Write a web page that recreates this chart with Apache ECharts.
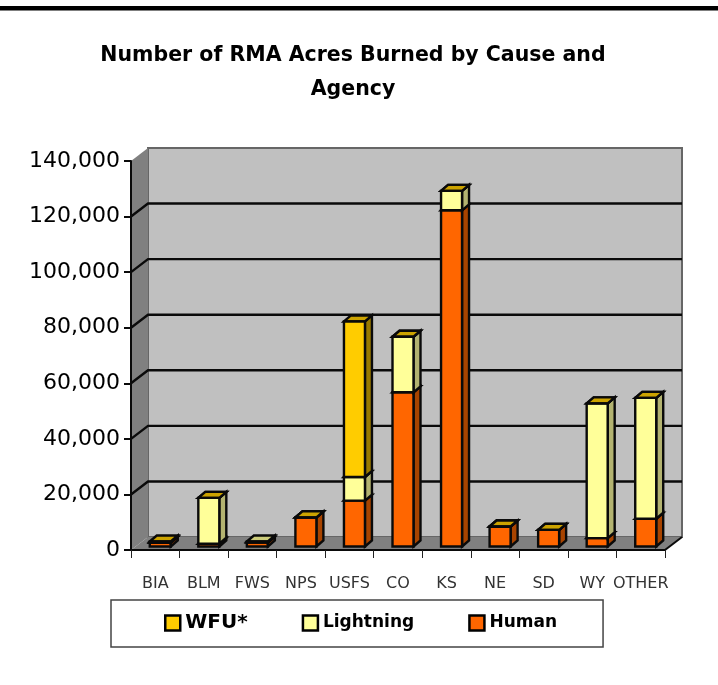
<!DOCTYPE html>
<html>
<head>
<meta charset="utf-8">
<title>RMA Acres Burned</title>
<script src="https://cdn.jsdelivr.net/npm/echarts@6/dist/echarts.min.js"></script>
<style>
  html, body { margin: 0; padding: 0; background: #fff; }
  #chart { width: 718px; height: 685px; }
</style>
</head>
<body>
<div id="chart"></div>
<script>
const categories = ['BIA', 'BLM', 'FWS', 'NPS', 'USFS', 'CO', 'KS', 'NE', 'SD', 'WY', 'OTHER'];
const human = [1400, 1000, 1400, 10500, 16500, 55500, 121000, 7200, 6000, 3000, 10000];
const lightning = [0, 16500, 400, 0, 8500, 20000, 7000, 0, 0, 48500, 43500];
// null = no WFU block at all, so the lightning top shows (FWS)
const wfu = [400, 0, null, 0, 56000, 0, 0, 0, 0, 0, 0];
const yTicks = [0, 20000, 40000, 60000, 80000, 100000, 120000, 140000];

const DEPTH_X = 17, DEPTH_Y = 13;
const BAR_SHIFT_X = 5, BAR_SHIFT_Y = 3.5, BAR_W = 21, BAR_DX = 7, BAR_DY = 6;

function poly(points, fill, stroke, width) {
  return {
    type: 'polygon',
    shape: { points },
    style: { fill, stroke: stroke || 'none', lineWidth: width || 0, lineJoin: 'miter' }
  };
}

function renderWalls(params, api) {
  const c = params.coordSys;
  const x0 = c.x, x1 = c.x + c.width, top = c.y, bot = c.y + c.height;
  const grey = '#c0c0c0', dark = '#808080';
  const kids = [
    poly([[x0 + DEPTH_X, top - DEPTH_Y], [x1 + DEPTH_X, top - DEPTH_Y], [x1 + DEPTH_X, bot - DEPTH_Y], [x0 + DEPTH_X, bot - DEPTH_Y]], grey, '#666', 2),
    poly([[x0, top], [x0 + DEPTH_X, top - DEPTH_Y], [x0 + DEPTH_X, bot - DEPTH_Y], [x0, bot]], dark),
    poly([[x0, bot], [x0 + DEPTH_X, bot - DEPTH_Y], [x1 + DEPTH_X, bot - DEPTH_Y], [x1, bot]], dark)
  ];
  yTicks.forEach(v => {
    const y = api.coord([0, v])[1];
    if (v > 0 && v < 140000) {
      kids.push({
        type: 'polyline',
        shape: { points: [[x0, y], [x0 + DEPTH_X, y - DEPTH_Y], [x1 + DEPTH_X, y - DEPTH_Y]] },
        style: { fill: 'none', stroke: '#0a0a0a', lineWidth: 2.4 }
      });
    }
  });
  kids.push({
    type: 'line',
    shape: { x1: x1, y1: bot, x2: x1 + DEPTH_X, y2: bot - DEPTH_Y },
    style: { stroke: '#0a0a0a', lineWidth: 2 }
  });
  return { type: 'group', children: kids };
}

function barRenderer(front, side, topFace) {
  return function (params, api) {
    const idx = api.value(0);
    const lo = api.coord([idx, api.value(1)]);
    const hi = api.coord([idx, api.value(2)]);
    const l = lo[0] - BAR_W / 2 + BAR_SHIFT_X, r = l + BAR_W;
    const b = lo[1] - BAR_SHIFT_Y, t = hi[1] - BAR_SHIFT_Y;
    const line = '#0a0a0a';
    return {
      type: 'group',
      children: [
        poly([[r, b], [r + BAR_DX, b - BAR_DY], [r + BAR_DX, t - BAR_DY], [r, t]], side, line, 2.4),
        poly([[l, t], [l + BAR_DX, t - BAR_DY], [r + BAR_DX, t - BAR_DY], [r, t]], topFace, line, 2.4),
        poly([[l, b], [r, b], [r, t], [l, t]], front, line, 2.4)
      ]
    };
  };
}

// stack by hand, custom series do not stack
function stackRows(values, below) {
  const rows = [];
  values.forEach((v, i) => {
    if (v === null) return;
    const base = below.reduce((s, arr) => s + (arr[i] || 0), 0);
    rows.push([i, base, base + v]);
  });
  return rows;
}

const chart = echarts.init(document.getElementById('chart'));
chart.setOption({
  animation: false,
  backgroundColor: '#fff',
  textStyle: { fontFamily: 'DejaVu Sans' },
  title: {
    text: 'Number of RMA Acres Burned by Cause and\nAgency',
    left: 348,
    top: 34,
    textAlign: 'center',
    textStyle: { fontFamily: 'DejaVu Sans', fontSize: 20.5, fontWeight: 'bold', color: '#000', lineHeight: 34 }
  },
  graphic: [{
    type: 'rect',
    shape: { x: 0, y: 6, width: 718, height: 4.5 },
    style: { fill: '#000' }
  }],
  grid: { left: 131, top: 161, width: 534, height: 389, containLabel: false },
  legend: {
    left: 111,
    top: 600,
    orient: 'horizontal',
    data: [
      { name: 'WFU*', textStyle: { fontSize: 20 } },
      { name: 'Lightning' },
      { name: 'Human' }
    ],
    padding: [13, 46, 14, 53],
    backgroundColor: '#fff',
    borderColor: '#444',
    borderWidth: 1.5,
    itemWidth: 15,
    itemHeight: 15,
    itemGap: 54,
    icon: 'rect',
    itemStyle: { borderColor: '#000', borderWidth: 2.5 },
    textStyle: { fontFamily: 'DejaVu Sans', fontWeight: 'bold', fontSize: 17, color: '#000' }
  },
  xAxis: {
    type: 'category',
    data: categories,
    axisLine: { show: true, lineStyle: { color: '#0a0a0a', width: 2 } },
    axisTick: { show: true, length: 8, alignWithLabel: false, lineStyle: { color: '#222', width: 1 } },
    axisLabel: { color: '#333', fontSize: 16, margin: 26, interval: 0, fontFamily: 'DejaVu Sans' },
    z: 5
  },
  yAxis: {
    type: 'value',
    min: 0,
    max: 140000,
    interval: 20000,
    axisLine: { show: true, lineStyle: { color: '#0a0a0a', width: 2 } },
    axisTick: { show: true, length: 7, lineStyle: { color: '#0a0a0a', width: 2 } },
    axisLabel: {
      color: '#000', fontSize: 22, margin: 11, fontFamily: 'DejaVu Sans',
      formatter: v => v.toLocaleString('en-US')
    },
    splitLine: { show: false },
    z: 5
  },
  series: [
    { type: 'custom', name: 'walls', renderItem: renderWalls, data: [[0, 0]], clip: false, silent: true, z: 1 },
    {
      type: 'custom', name: 'Human', clip: false, z: 2,
      renderItem: barRenderer('#ff6600', '#a84400', '#cc5200'),
      data: stackRows(human, []),
      itemStyle: { color: '#ff6600' }
    },
    {
      type: 'custom', name: 'Lightning', clip: false, z: 3,
      renderItem: barRenderer('#ffff99', '#b3b370', '#cccc7a'),
      data: stackRows(lightning, [human]),
      itemStyle: { color: '#ffff99' }
    },
    {
      type: 'custom', name: 'WFU*', clip: false, z: 4,
      renderItem: barRenderer('#ffcc00', '#997a00', '#cca300'),
      data: stackRows(wfu, [human, lightning]),
      itemStyle: { color: '#ffcc00' }
    }
  ]
});
</script>
</body>
</html>
